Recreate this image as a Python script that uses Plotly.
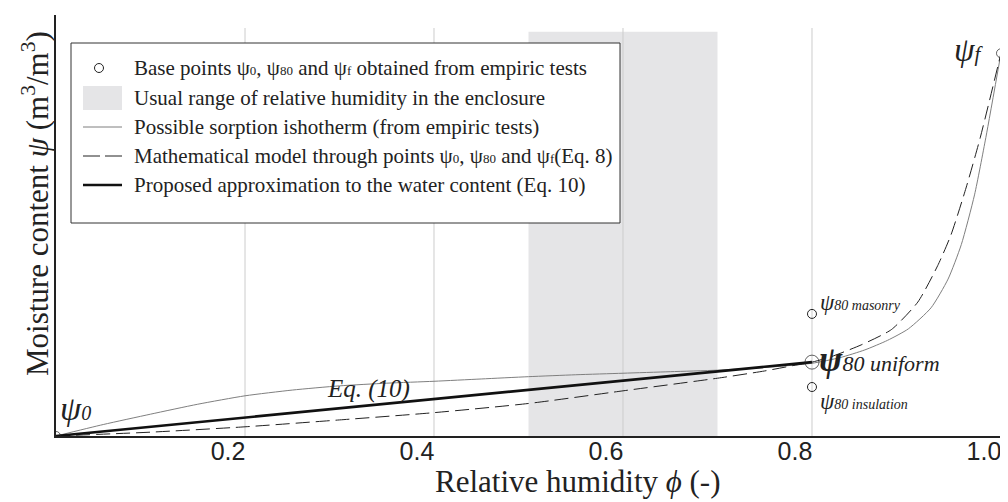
import plotly.graph_objects as go

# ---------------- data ----------------
phi_iso = [0, 0.05, 0.1, 0.15, 0.2, 0.25, 0.3, 0.35, 0.4, 0.45, 0.5, 0.55, 0.6, 0.65,
           0.7, 0.75, 0.8, 0.83, 0.856, 0.88, 0.902, 0.926, 0.944, 0.958, 0.972, 0.984, 1.0]
psi_iso = [0, 0.03, 0.057, 0.083, 0.105, 0.12, 0.131, 0.138, 0.143, 0.149, 0.155, 0.16, 0.164, 0.168,
           0.172, 0.179, 0.19, 0.205, 0.225, 0.25, 0.28, 0.335, 0.41, 0.5, 0.63, 0.78, 1.0]

phi_model = [0, 0.1, 0.2, 0.3, 0.4, 0.5, 0.6, 0.7, 0.75, 0.78, 0.8, 0.82, 0.852, 0.884,
             0.912, 0.933, 0.947, 0.963, 0.978, 1.0]
psi_model = [0, 0.01, 0.024, 0.042, 0.061, 0.085, 0.118, 0.151, 0.17, 0.184, 0.193, 0.207, 0.238, 0.278,
             0.35, 0.445, 0.525, 0.648, 0.779, 1.0]

phi_approx = [0, 0.8]
psi_approx = [0, 0.193]

phi_base = [0, 0.8, 1.0]
psi_base = [0, 0.193, 1.0]
phi_var = [0.8, 0.8]
psi_var = [0.319, 0.128]        # masonry, insulation

usual_range = [0.5, 0.7]
tick_vals = [0.2, 0.4, 0.6, 0.8, 1.0]
tick_text = ["0.2", "0.4", "0.6", "0.8", "1.0"]

SUB = "<span style='font-size:13px'>%s</span>"
legend_labels = [
    "Base points ψ" + SUB % "0" + ", ψ" + SUB % "80" + " and ψ" + SUB % "f" + " obtained from empiric tests",
    "Usual range of relative humidity in the enclosure",
    "Possible sorption ishotherm (from empiric tests)",
    "Mathematical model through points ψ" + SUB % "0" + ", ψ" + SUB % "80" + " and ψ" + SUB % "f" + "(Eq. 8)",
    "Proposed approximation to the water content (Eq. 10)",
]

# ---------------- layout geometry ----------------
W, H = 1008, 502
PL, PR, PT, PB = 48, 1003, 7, 428
XMAX, YMAX = 1.0106, 1.1
GRID_TOP, SHADE_TOP = 1.066, 1.056
SERIF = "Liberation Serif, Times New Roman, serif"
SANS = "Liberation Sans, Arial, sans-serif"
INK = "#222222"


def px(x):
    return (x - PL) / (PR - PL)


def py(y):
    return (PB - y) / (PB - PT)


fig = go.Figure()

fig.add_trace(go.Scatter(x=phi_iso, y=psi_iso, mode="lines",
                         line=dict(color="#7f7f7f", width=1, shape="spline", smoothing=0.6), hoverinfo="skip"))
fig.add_trace(go.Scatter(x=phi_model, y=psi_model, mode="lines",
                         line=dict(color=INK, width=1, dash="14px,6px", shape="spline", smoothing=0.6), hoverinfo="skip"))
fig.add_trace(go.Scatter(x=phi_approx, y=psi_approx, mode="lines",
                         line=dict(color="#111111", width=2.6), hoverinfo="skip"))
fig.add_trace(go.Scatter(x=phi_var, y=psi_var, mode="markers",
                         marker=dict(symbol="circle-open", size=9, color=INK, line=dict(width=1))))
fig.add_trace(go.Scatter(x=phi_base, y=psi_base, mode="markers",
                         marker=dict(symbol="circle-open", size=[9, 14, 9], color=INK, line=dict(width=1))))

shapes = []
shapes.append(dict(type="rect", xref="x", yref="y", x0=usual_range[0], x1=usual_range[1], y0=0, y1=SHADE_TOP,
                   fillcolor="#e5e5e7", line=dict(width=0), layer="below"))
for v in tick_vals:
    shapes.append(dict(type="line", xref="x", yref="y", x0=v, x1=v, y0=0, y1=GRID_TOP,
                       line=dict(color="#cccccc", width=1), layer="below"))

# legend box (manual)
LX0, LX1, LY0, LY1 = 63, 612, 35, 215
rows = [60, 90, 119, 148, 177]
SX0, SX1 = 75, 114
TX = 124
shapes.append(dict(type="rect", xref="paper", yref="paper", x0=px(LX0), x1=px(LX1), y0=py(LY1), y1=py(LY0),
                   fillcolor="white", line=dict(color="#333333", width=1), layer="above"))
shapes.append(dict(type="circle", xref="paper", yref="paper", x0=px(91 - 4.5), x1=px(91 + 4.5),
                   y0=py(rows[0] + 4.5), y1=py(rows[0] - 4.5), line=dict(color=INK, width=1), layer="above"))
shapes.append(dict(type="rect", xref="paper", yref="paper", x0=px(SX0), x1=px(SX1), y0=py(rows[1] + 12), y1=py(rows[1] - 12),
                   fillcolor="#e5e5e7", line=dict(width=0), layer="above"))
shapes.append(dict(type="line", xref="paper", yref="paper", x0=px(SX0), x1=px(SX1), y0=py(rows[2]), y1=py(rows[2]),
                   line=dict(color="#7f7f7f", width=1), layer="above"))
shapes.append(dict(type="line", xref="paper", yref="paper", x0=px(SX0), x1=px(SX1), y0=py(rows[3]), y1=py(rows[3]),
                   line=dict(color=INK, width=1, dash="17px,5px"), layer="above"))
shapes.append(dict(type="line", xref="paper", yref="paper", x0=px(SX0), x1=px(SX1), y0=py(rows[4]), y1=py(rows[4]),
                   line=dict(color="#111111", width=2.6), layer="above"))

ann = []
for lab, r in zip(legend_labels, rows):
    ann.append(dict(xref="paper", yref="paper", x=px(TX), y=py(r), xanchor="left", yanchor="middle",
                    text=lab, showarrow=False, font=dict(family=SERIF, size=21, color=INK)))

# labels on the chart
ann.append(dict(xref="paper", yref="paper", x=px(50), y=py(400), xanchor="left", yanchor="middle", showarrow=False,
                text="<i><span style='font-size:34px'>ψ</span>0</i>", font=dict(family=SERIF, size=20, color=INK)))
ann.append(dict(xref="paper", yref="paper", x=px(944), y=py(42), xanchor="left", yanchor="middle", showarrow=False,
                text="<i><span style='font-size:33px'>ψ</span>f</i>", font=dict(family=SERIF, size=21, color=INK)))
ann.append(dict(xref="paper", yref="paper", x=px(810), y=py(294), xanchor="left", yanchor="middle", showarrow=False,
                text="<i><span style='font-size:23px'>ψ</span>80 masonry</i>", font=dict(family=SERIF, size=14, color=INK)))
ann.append(dict(xref="paper", yref="paper", x=px(809), y=py(351), xanchor="left", yanchor="middle", showarrow=False,
                text="<i><b><span style='font-size:35px'>ψ</span></b>80 uniform</i>", font=dict(family=SERIF, size=22, color=INK)))
ann.append(dict(xref="paper", yref="paper", x=px(810), y=py(393), xanchor="left", yanchor="middle", showarrow=False,
                text="<i><span style='font-size:23px'>ψ</span>80 insulation</i>", font=dict(family=SERIF, size=14, color=INK)))
ann.append(dict(xref="paper", yref="paper", x=px(360), y=py(381), xanchor="center", yanchor="middle", showarrow=False,
                text="<i>Eq. (10)</i>", font=dict(family=SERIF, size=25, color=INK)))

# axis titles
ann.append(dict(xref="paper", yref="paper", x=px(570), y=py(474), xanchor="center", yanchor="middle", showarrow=False,
                text="Relative humidity <i>ϕ</i> (-)", font=dict(family=SERIF, size=31, color=INK)))
ann.append(dict(xref="paper", yref="paper", x=px(27), y=py(196), xanchor="center", yanchor="middle", showarrow=False,
                textangle=-90, text="Moisture content <i>ψ</i> (m<sup>3</sup>/m<sup>3</sup>)",
                font=dict(family=SERIF, size=31, color=INK)))

fig.update_layout(
    width=W, height=H,
    margin=dict(l=PL, r=W - PR, t=PT, b=H - PB, pad=0),
    plot_bgcolor="white", paper_bgcolor="white",
    showlegend=False,
    shapes=shapes, annotations=ann,
    xaxis=dict(range=[0, XMAX], tickvals=tick_vals, ticktext=tick_text, showgrid=False, zeroline=False,
               showline=True, linecolor=INK, linewidth=1.5, ticks="", ticklabelshift=-17, ticklabelstandoff=-8,
               ticklabeloverflow="allow",
               tickfont=dict(family=SANS, size=25, color=INK), fixedrange=True),
    yaxis=dict(range=[0, YMAX], showticklabels=False, showgrid=False, zeroline=False,
               showline=True, linecolor=INK, linewidth=1.5, ticks="", fixedrange=True),
)

fig.write_html("out.html")
